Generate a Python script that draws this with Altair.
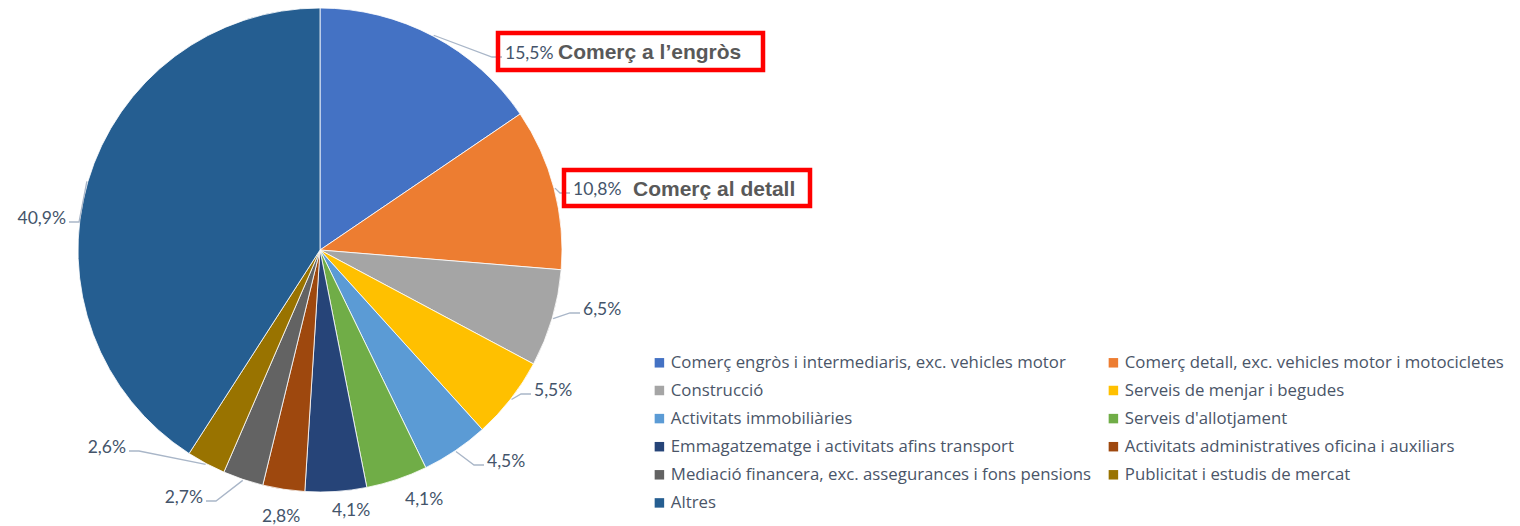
import math
import altair as alt
import pandas as pd

# ---------------- data ----------------
categories = [
    "Comerç engròs i intermediaris, exc. vehicles motor",
    "Comerç detall, exc. vehicles motor i motocicletes",
    "Construcció",
    "Serveis de menjar i begudes",
    "Activitats immobiliàries",
    "Serveis d'allotjament",
    "Emmagatzematge i activitats afins transport",
    "Activitats administratives oficina i auxiliars",
    "Mediació financera, exc. assegurances i fons pensions",
    "Publicitat i estudis de mercat",
    "Altres",
]
values = [15.5, 10.8, 6.5, 5.5, 4.5, 4.1, 4.1, 2.8, 2.7, 2.6, 40.9]
colors = ["#4472C4", "#ED7D31", "#A5A5A5", "#FFC000", "#5B9BD5", "#70AD47",
          "#264478", "#9E480E", "#636363", "#997300", "#255E91"]
highlight_texts = ["Comerç a l’engròs", "Comerç al detall"]

# ---------------- layout (page pixels) ----------------
W, H = 1504, 518
OFF = 8
CX, CY, R = 320 - OFF, 250 - OFF, 242
lab_x = [505, 573, 583, 534, 487, 405, 332, 262, 203, 126, 66]
lab_y = [59, 195, 315, 396, 467, 505, 516, 522, 503, 453, 224]
lab_align = ["left"] * 8 + ["right"] * 3
has_leader = [True, True, True, True, True, False, False, False, True, True, True]
hl_x = [558, 633]
hl_y = [59, 196]
boxes = [(498, 33, 763, 70), (564, 170, 810, 206)]

df = pd.DataFrame({"cat": categories, "val": values, "idx": list(range(len(values)))})

# label table
total = sum(values)
rows, lines = [], []
cum = 0.0
for i, v in enumerate(values):
    mid = (cum + v / 2) / total * 2 * math.pi
    cum += v
    lx, ly = lab_x[i] - OFF, lab_y[i] - OFF
    txt = f"{v:.1f}".replace(".", ",") + "%"
    rows.append({"x": lx, "y": ly, "t": txt, "al": lab_align[i]})
    if has_leader[i]:
        ex = CX + (R + 1) * math.sin(mid)
        ey = CY - (R + 1) * math.cos(mid)
        sgn = -1 if lab_align[i] == "left" else 1
        endx = lx + sgn * 3
        elbx = endx + sgn * 10
        yy = ly - 2
        for k, (px, py) in enumerate([(ex, ey), (elbx, yy), (endx, yy)]):
            lines.append({"id": i, "k": k, "x": px, "y": py})

labels_df = pd.DataFrame(rows)
lines_df = pd.DataFrame(lines)
hl_df = pd.DataFrame({"x": [x - OFF for x in hl_x], "y": [y - OFF for y in hl_y], "t": highlight_texts})
box_df = pd.DataFrame([{"x": a - OFF, "y": b - OFF, "x2": c - OFF, "y2": d - OFF} for a, b, c, d in boxes])

xs = alt.Scale(domain=[0, W], range=[0, W], nice=False, zero=False)
ys = alt.Scale(domain=[0, H], range=[0, H], nice=False, zero=False)

pie = alt.Chart(df).mark_arc(outerRadius=R, stroke="white", strokeWidth=0.8).encode(
    theta=alt.Theta("val:Q", stack=True),
    order=alt.Order("idx:Q", sort="ascending"),
    color=alt.Color(
        "cat:N",
        scale=alt.Scale(domain=categories, range=colors),
        sort=categories,
        legend=alt.Legend(
            title=None, orient="none", legendX=643, legendY=346, columns=2,
            direction="horizontal",
            symbolType="square", symbolSize=90, symbolStrokeWidth=0,
            labelFont="Open Sans", labelFontSize=16.8, labelColor="#4A5568",
            labelLimit=600, rowPadding=10.1, columnPadding=13, padding=0,
            labelOffset=3,
        ),
    ),
    x=alt.value(CX),
    y=alt.value(CY),
)

leaders = alt.Chart(lines_df).mark_line(color="#A9B6C8", strokeWidth=1.3).encode(
    x=alt.X("x:Q", scale=xs, axis=None),
    y=alt.Y("y:Q", scale=ys, axis=None),
    detail="id:N",
    order="k:Q",
)

lab_left = alt.Chart(labels_df[labels_df.al == "left"]).mark_text(
    align="left", baseline="alphabetic", font="Lato", fontSize=17.5, color="#44546A"
).encode(x=alt.X("x:Q", scale=xs, axis=None), y=alt.Y("y:Q", scale=ys, axis=None), text="t:N")

lab_right = alt.Chart(labels_df[labels_df.al == "right"]).mark_text(
    align="right", baseline="alphabetic", font="Lato", fontSize=17.5, color="#44546A"
).encode(x=alt.X("x:Q", scale=xs, axis=None), y=alt.Y("y:Q", scale=ys, axis=None), text="t:N")

hl = alt.Chart(hl_df).mark_text(
    align="left", baseline="alphabetic", font="Liberation Sans", fontSize=21,
    fontWeight="bold", color="#595959"
).encode(x=alt.X("x:Q", scale=xs, axis=None), y=alt.Y("y:Q", scale=ys, axis=None), text="t:N")

box = alt.Chart(box_df).mark_rect(fillOpacity=0, stroke="#FF0000", strokeWidth=4.5).encode(
    x=alt.X("x:Q", scale=xs, axis=None), x2="x2:Q",
    y=alt.Y("y:Q", scale=ys, axis=None), y2="y2:Q",
)

chart = alt.layer(pie, leaders, box, lab_left, lab_right, hl).properties(
    width=W, height=H, padding=0, autosize=alt.AutoSizeParams(type="none")
).configure_view(stroke=None)

chart.save("out.html", embed_options={"renderer": "svg", "actions": False})
